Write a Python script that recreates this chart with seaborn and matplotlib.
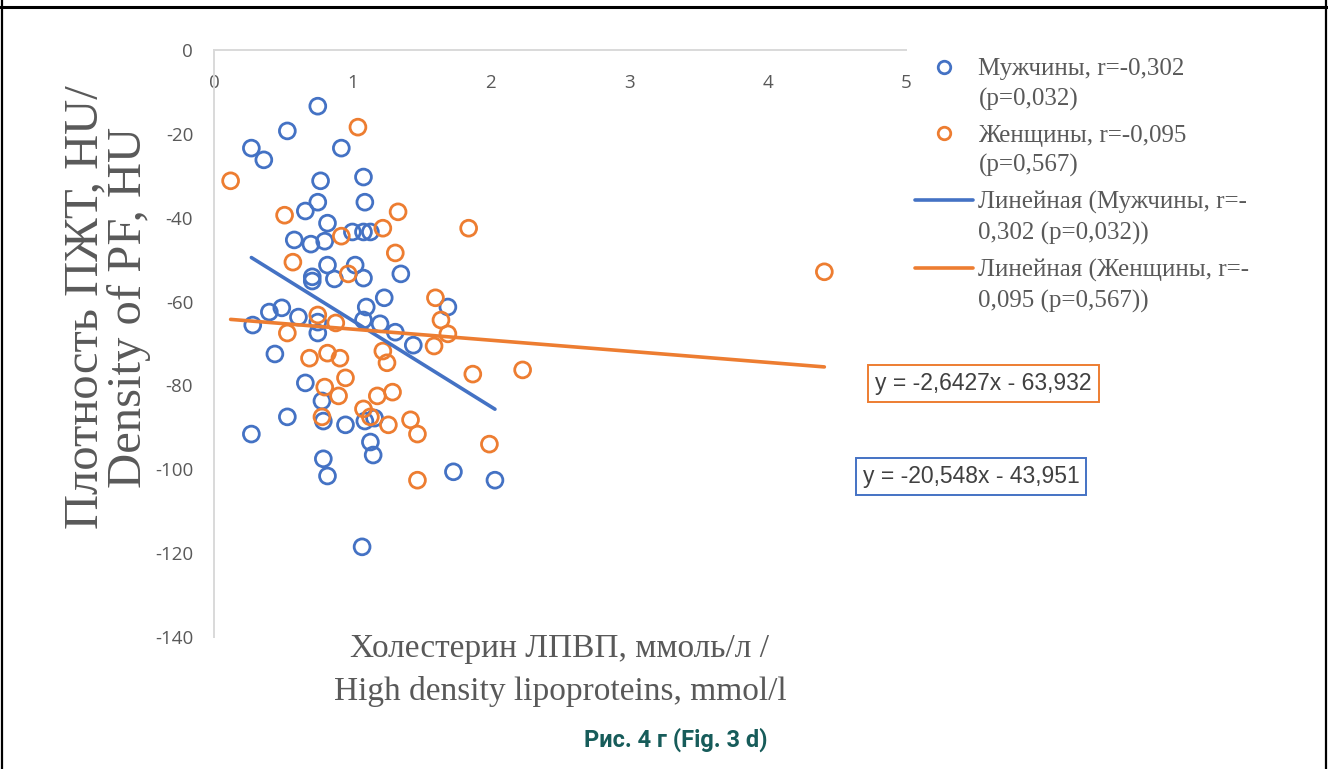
import numpy as np
import pandas as pd
import matplotlib
matplotlib.use("Agg")
import matplotlib.pyplot as plt
import seaborn as sns
from matplotlib.lines import Line2D
from matplotlib.legend_handler import HandlerLine2D

# HDL cholesterol (mmol/l) vs. pericardial fat density (HU)
men_hdl = [0.75, 0.53, 0.27, 0.36, 0.92, 0.77, 1.08, 1.09, 0.75, 0.66,
           0.82, 0.58, 0.70, 0.80, 1.00, 1.08, 1.13, 0.82, 1.02, 0.87,
           1.08, 0.71, 0.71, 1.35, 0.40, 0.49, 0.28, 0.61, 0.75, 0.75,
           1.10, 1.08, 1.23, 1.20, 1.31, 1.69, 1.44, 0.44, 0.66, 0.78,
           0.53, 0.79, 0.95, 1.09, 1.16, 0.27, 1.13, 1.15, 0.79, 0.82,
           1.07, 1.73, 2.03]
men_density = [-13.4, -19.3, -23.4, -26.2, -23.4, -31.2, -30.3, -36.3, -36.3, -38.4,
               -41.3, -45.3, -46.3, -45.6, -43.4, -43.4, -43.4, -51.3, -51.3, -54.6,
               -54.4, -54.1, -55.1, -53.4, -62.5, -61.5, -65.6, -63.7, -64.9, -67.5,
               -61.3, -64.4, -59.1, -65.3, -67.3, -61.3, -70.4, -72.5, -79.4, -83.7,
               -87.5, -88.5, -89.4, -88.5, -87.8, -91.6, -93.5, -96.6, -97.5, -101.6,
               -118.5, -100.6, -102.6]

women_hdl = [1.04, 0.12, 0.51, 0.92, 0.57, 0.97, 1.33, 1.22, 1.84, 1.31,
             1.60, 1.64, 1.69, 1.59, 0.75, 0.88, 0.53, 0.69, 0.82, 0.91,
             0.95, 0.80, 0.90, 0.78, 1.22, 1.25, 1.87, 2.23, 1.18, 1.29,
             1.08, 1.13, 1.26, 1.42, 1.47, 1.99, 1.47, 4.41]
women_density = [-18.4, -31.2, -39.4, -44.4, -50.6, -53.4, -38.6, -42.5, -42.5, -48.4,
                 -59.1, -64.4, -67.7, -70.6, -63.2, -65.1, -67.5, -73.5, -72.3, -73.5,
                 -78.2, -80.4, -82.5, -87.5, -71.8, -74.6, -77.3, -76.3, -82.5, -81.6,
                 -85.6, -87.5, -89.4, -88.2, -91.6, -94.0, -102.6, -52.9]

# Linear trend coefficients (slope, intercept)
men_fit = (-20.548, -43.951)
women_fit = (-2.6427, -63.932)

groups = ["Мужчины", "Женщины"]
legend_labels = ["Мужчины, r=-0,302\n(p=0,032)",
                 "Женщины, r=-0,095\n(p=0,567)",
                 "Линейная (Мужчины, r=-\n0,302 (p=0,032))",
                 "Линейная (Женщины, r=-\n0,095 (p=0,567))"]
equations = ["y = -20,548x - 43,951", "y = -2,6427x - 63,932"]
x_ticks = [0, 1, 2, 3, 4, 5]
y_ticks = [-140, -120, -100, -80, -60, -40, -20, 0]

BLUE = "#4472C4"
ORANGE = "#ED7D31"
GREY = "#595959"
palette = {"Мужчины": BLUE, "Женщины": ORANGE}

points = pd.concat([
    pd.DataFrame({"hdl": men_hdl, "density": men_density, "group": groups[0]}),
    pd.DataFrame({"hdl": women_hdl, "density": women_density, "group": groups[1]}),
], ignore_index=True)

trend_rows = []
for g, xs, (k, b) in [(groups[0], men_hdl, men_fit), (groups[1], women_hdl, women_fit)]:
    for xv in (min(xs), max(xs)):
        trend_rows.append({"hdl": xv, "density": k * xv + b, "group": g})
trend = pd.DataFrame(trend_rows)

sns.set_theme(style="white")
plt.rcParams["font.family"] = ["DejaVu Sans"]

W, H = 1328, 769
fig = plt.figure(figsize=(W / 100, H / 100), dpi=100)
ax = fig.add_axes([214 / W, 1 - 637 / H, (906 - 214) / W, (637 - 50) / H])

sns.scatterplot(data=points, x="hdl", y="density", hue="group", palette=palette,
                s=130, linewidth=2.0, legend=False, ax=ax, zorder=3, clip_on=False)
for coll in ax.collections:
    fc = coll.get_facecolors()
    coll.set_edgecolors(fc)
    coll.set_facecolors("none")

sns.lineplot(data=trend, x="hdl", y="density", hue="group", palette=palette,
             linewidth=2.6, estimator=None, legend=False, ax=ax, zorder=4)

ax.set_xlim(0, 5)
ax.set_ylim(-140, 0)
ax.set_xticks(x_ticks)
ax.set_yticks(y_ticks)
ax.set_xticklabels([str(v) for v in x_ticks])
ax.set_yticklabels([str(v) for v in y_ticks])

# x axis runs along y = 0 (top edge), labels sit under it
ax.spines["bottom"].set_position(("data", 0))
ax.spines["top"].set_visible(False)
ax.spines["right"].set_visible(False)
for s in ("bottom", "left"):
    ax.spines[s].set_color("#d9d9d9")
    ax.spines[s].set_linewidth(1.4)
ax.tick_params(axis="x", length=0, pad=17, labelsize=13.5, labelcolor=GREY)
ax.tick_params(axis="y", length=0, pad=15, labelsize=13.5, labelcolor=GREY)
for t in ax.get_xticklabels() + ax.get_yticklabels():
    t.set_fontfamily("Open Sans")

ax.set_xlabel("Холестерин ЛПВП, ммоль/л /\nHigh density lipoproteins, mmol/l",
              fontsize=24, color=GREY, family="Liberation Serif", linespacing=1.52)
ax.xaxis.set_label_coords(0.5, 0.006)
ax.set_ylabel("Плотность ПЖТ, HU/\nDensity of PF, HU",
              fontsize=35, color=GREY, family="Liberation Serif", linespacing=0.98)
ax.yaxis.label.set_verticalalignment("center")
ax.yaxis.set_label_coords(-0.154, 0.562)


class FirstLineHandler(HandlerLine2D):
    """Place the legend key next to the first line of a two-line label."""

    def __init__(self, lift, **kw):
        super().__init__(**kw)
        self.lift = lift

    def create_artists(self, legend, orig_handle, xdescent, ydescent,
                       width, height, fontsize, trans):
        return super().create_artists(legend, orig_handle, xdescent,
                                      ydescent - 2 * self.lift, width, height,
                                      fontsize, trans)


handles = [
    Line2D([], [], ls="none", marker="o", mfc="none", mec=BLUE, mew=2, ms=9),
    Line2D([], [], ls="none", marker="o", mfc="none", mec=ORANGE, mew=2, ms=9),
    Line2D([], [], color=BLUE, lw=2.6),
    Line2D([], [], color=ORANGE, lw=2.6),
]
leg_fs = 18
leg = fig.legend(handles, legend_labels, loc="upper left",
                 bbox_to_anchor=(915 / W, 1 - 58 / H), frameon=False,
                 prop={"family": "Liberation Serif", "size": leg_fs},
                 labelcolor=GREY, handlelength=2.3, handletextpad=0.24,
                 labelspacing=0.55, borderpad=0, borderaxespad=0,
                 handler_map={h: FirstLineHandler(0.7 * leg_fs) for h in handles})
for t in leg.get_texts():
    t.set_linespacing(1.44)

# trend-line equations
fig.text(971 / W, 1 - 476.5 / H, equations[0], ha="center", va="center",
         fontsize=16.5, color="#404040", family="Liberation Sans",
         bbox=dict(boxstyle="square,pad=0.3", fc="white", ec=BLUE, lw=1.4))
fig.text(983.5 / W, 1 - 383.5 / H, equations[1], ha="center", va="center",
         fontsize=16.5, color="#404040", family="Liberation Sans",
         bbox=dict(boxstyle="square,pad=0.3", fc="white", ec=ORANGE, lw=1.4))

fig.text(676 / W, 1 - 740 / H, "Рис. 4 г (Fig. 3 d)", ha="center", va="center",
         fontsize=17, fontweight="bold", color="#175c5a", family="Roboto")

# cell frame
fig.add_artist(Line2D([0, 1], [1 - 7 / H] * 2, transform=fig.transFigure,
                      color="black", lw=2.2))
fig.add_artist(Line2D([2 / W] * 2, [0, 1], transform=fig.transFigure,
                      color="black", lw=1.6))
fig.add_artist(Line2D([1325.5 / W] * 2, [0, 1], transform=fig.transFigure,
                      color="black", lw=1.6))

fig.savefig("out.png", dpi=100)
